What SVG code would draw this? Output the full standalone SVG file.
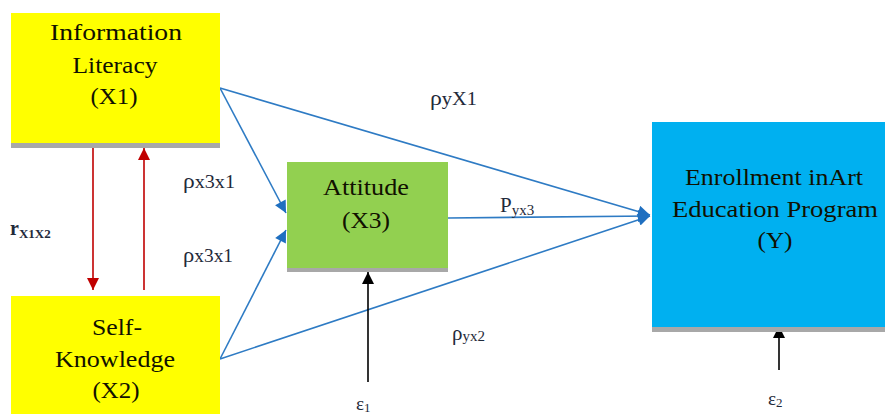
<svg xmlns="http://www.w3.org/2000/svg" width="885" height="414" viewBox="0 0 885 414">
<defs>
<style>
.t{font-family:"Liberation Serif","Times New Roman",serif;font-size:23px;fill:#111100;text-anchor:middle}
.lb{font-family:"Liberation Serif","Times New Roman",serif;fill:#1f2a3a}
.blue{stroke:#2e7bc4;stroke-width:1.6;fill:none}
.red{stroke:#c00000;stroke-width:1.6;fill:none}
.blk{stroke:#000;stroke-width:1.6;fill:none}
.shadow{fill:#a8a8a8}
</style>
<marker id="abig" viewBox="0 0 10 10" refX="10" refY="5" markerWidth="14" markerHeight="12" orient="auto" markerUnits="userSpaceOnUse"><path d="M0,0 L10,5 L0,10 Z" fill="#1f6fc0"/></marker>
<marker id="ar" viewBox="0 0 10 10" refX="10" refY="5" markerWidth="14" markerHeight="12" orient="auto" markerUnits="userSpaceOnUse"><path d="M0,0 L10,5 L0,10 Z" fill="#c00000"/></marker>
<marker id="ak" viewBox="0 0 10 10" refX="10" refY="5" markerWidth="14" markerHeight="12" orient="auto" markerUnits="userSpaceOnUse"><path d="M0,0 L10,5 L0,10 Z" fill="#000"/></marker>
</defs>
<rect width="885" height="414" fill="#fff"/>

<g id="connectors">
<line class="blue" x1="220" y1="88" x2="286" y2="213" marker-end="url(#abig)"/>
<line class="blue" x1="220" y1="359" x2="286" y2="230" marker-end="url(#abig)"/>
<line class="blue" x1="220" y1="88" x2="650" y2="215" marker-end="url(#abig)"/>
<line class="blue" x1="220" y1="359" x2="650" y2="216" marker-end="url(#abig)"/>
<line class="blue" x1="448" y1="218" x2="650" y2="216" marker-end="url(#abig)"/>
<line class="red" x1="93" y1="148" x2="93" y2="290" marker-end="url(#ar)"/>
<line class="red" x1="144" y1="290" x2="144" y2="148" marker-end="url(#ar)"/>
<line class="blk" x1="368" y1="382" x2="368" y2="272" marker-end="url(#ak)"/>
<line class="blk" x1="779" y1="370" x2="779" y2="326" marker-end="url(#ak)"/>
</g>

<g id="x1">
<rect class="shadow" x="11" y="140" width="209" height="8"/>
<rect x="11" y="13" width="209" height="130" fill="#ffff00"/>
<text class="t" x="116" y="40" textLength="132" lengthAdjust="spacingAndGlyphs">Information</text>
<text class="t" x="115" y="73" textLength="85" lengthAdjust="spacingAndGlyphs">Literacy</text>
<text class="t" x="114" y="104" textLength="47" lengthAdjust="spacingAndGlyphs">(X1)</text>
</g>

<g id="x2">
<rect x="11" y="296" width="209" height="118" fill="#ffff00"/>
<text class="t" x="117" y="335" textLength="50" lengthAdjust="spacingAndGlyphs">Self-</text>
<text class="t" x="115" y="367" textLength="120" lengthAdjust="spacingAndGlyphs">Knowledge</text>
<text class="t" x="116" y="398" textLength="47" lengthAdjust="spacingAndGlyphs">(X2)</text>
</g>

<g id="x3">
<rect class="shadow" x="287" y="266" width="161" height="6"/>
<rect x="287" y="162" width="161" height="106" fill="#92d050"/>
<text class="t" x="366" y="195" textLength="86" lengthAdjust="spacingAndGlyphs">Attitude</text>
<text class="t" x="366" y="228" textLength="48" lengthAdjust="spacingAndGlyphs">(X3)</text>
</g>

<g id="y">
<rect class="shadow" x="652" y="325" width="233" height="7"/>
<rect x="652" y="122" width="233" height="205" fill="#00b0f0"/>
<text class="t" x="774" y="185" textLength="178" lengthAdjust="spacingAndGlyphs">Enrollment inArt</text>
<text class="t" x="775" y="217" textLength="206" lengthAdjust="spacingAndGlyphs">Education Program</text>
<text class="t" x="775" y="248" textLength="35" lengthAdjust="spacingAndGlyphs">(Y)</text>
</g>

<g id="labels">
<text class="lb" x="430" y="105" font-size="21" textLength="47" lengthAdjust="spacingAndGlyphs">ρ<tspan font-size="18">yX1</tspan></text>
<text class="lb" x="183" y="188" font-size="21" textLength="52" lengthAdjust="spacingAndGlyphs">ρ<tspan font-size="18">x3x1</tspan></text>
<text class="lb" x="183" y="262" font-size="21" textLength="50" lengthAdjust="spacingAndGlyphs">ρ<tspan font-size="18">x3x1</tspan></text>
<text class="lb" x="10" y="235" font-size="20" font-weight="bold">r<tspan font-size="13" dy="3">X1X2</tspan></text>
<text class="lb" x="500" y="212" font-size="21">P<tspan font-size="15" dy="3">yx3</tspan></text>
<text class="lb" x="452" y="340" font-size="21">ρ<tspan font-size="15" dy="1">yx2</tspan></text>
<text class="lb" x="356" y="410" font-size="19">ε<tspan font-size="13" dy="2">1</tspan></text>
<text class="lb" x="768" y="405" font-size="19">ε<tspan font-size="13" dy="2">2</tspan></text>
</g>
</svg>
